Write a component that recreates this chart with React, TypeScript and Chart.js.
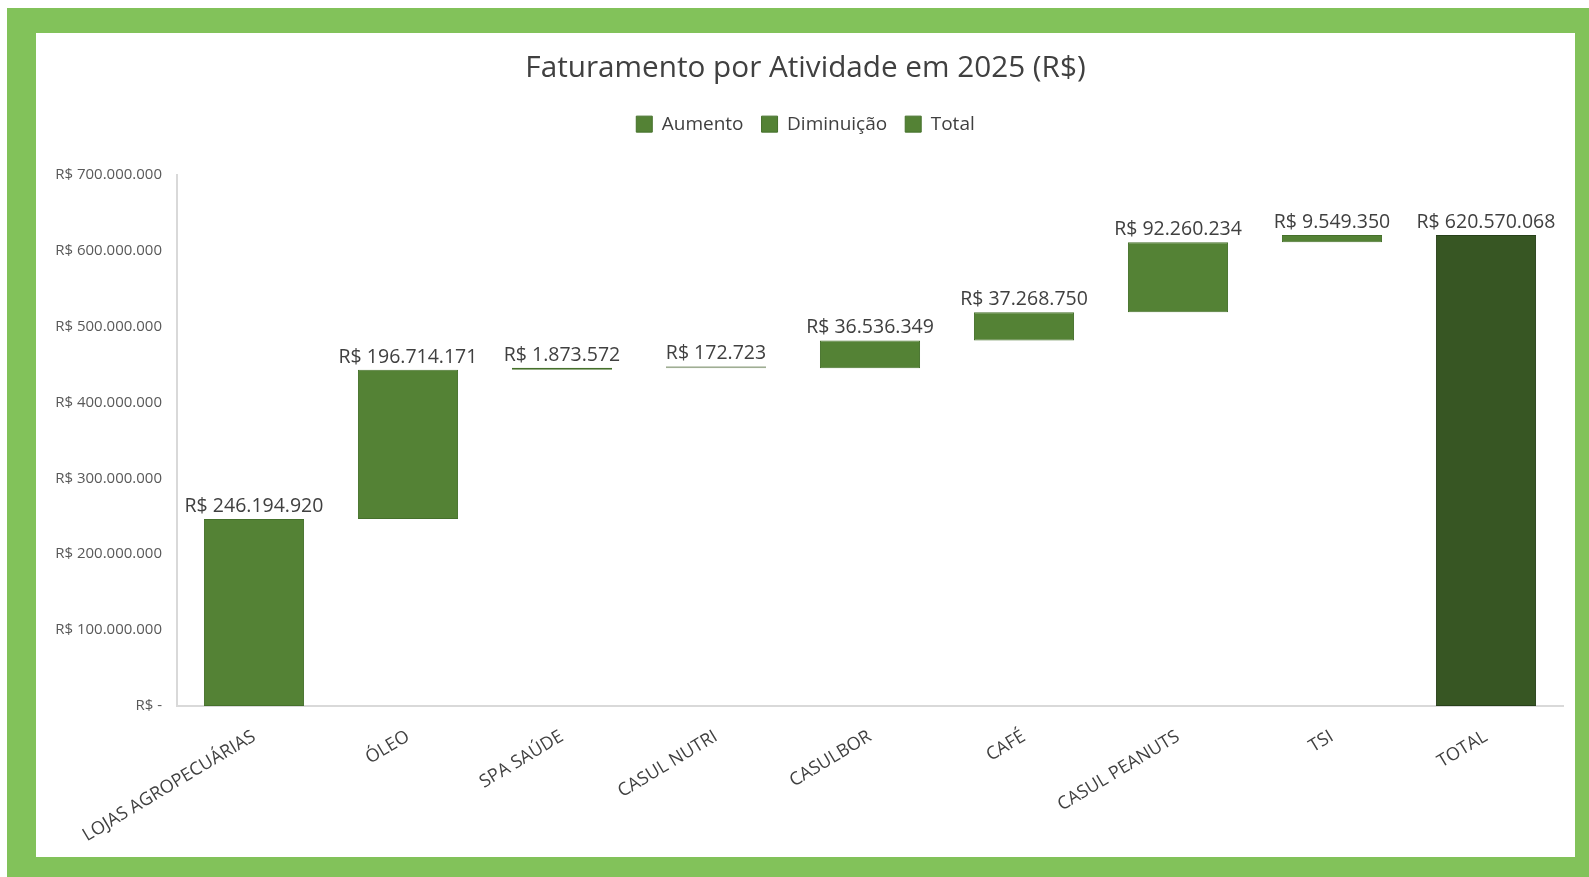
import React, { useEffect, useRef } from "react";
import { Chart, registerables } from "chart.js";

Chart.register(...registerables);

const TITLE = "Faturamento por Atividade em 2025 (R$)";
const LEGEND_LABELS = ["Aumento", "Diminuição", "Total"];
const CATEGORIES = [
  "LOJAS AGROPECUÁRIAS",
  "ÓLEO",
  "SPA SAÚDE",
  "CASUL NUTRI",
  "CASULBOR",
  "CAFÉ",
  "CASUL PEANUTS",
  "TSI",
  "TOTAL",
];
// amounts per activity (the last one is the total)
const VALUES = [246194920, 196714171, 1873572, 172723, 36536349, 37268750, 92260234, 9549350, 620570068];
const IS_TOTAL = [false, false, false, false, false, false, false, false, true];
const Y_TICKS = [0, 100000000, 200000000, 300000000, 400000000, 500000000, 600000000, 700000000];

const FONT = "'Open Sans', sans-serif";
const BAR = "#548235";
const BAR_BORDER = "#45702b";
const TOTAL_BAR = "#375623";
const TOTAL_BORDER = "#27401a";
const THIN_BAR = "#9fae94";

function fmt(v: number): string {
  if (v === 0) return "R$ -";
  return "R$ " + Math.round(v).toString().replace(/\B(?=(\d{3})+(?!\d))/g, ".");
}

function buildRanges(): [number, number][] {
  const out: [number, number][] = [];
  let run = 0;
  VALUES.forEach((v, i) => {
    if (IS_TOTAL[i]) {
      out.push([0, v]);
    } else {
      out.push([run, run + v]);
      run += v;
    }
  });
  return out;
}

const labelPlugin = {
  id: "valueLabels",
  afterDatasetsDraw(chart: any) {
    const ctx = chart.ctx;
    const meta = chart.getDatasetMeta(0);
    ctx.save();
    ctx.font = `19.5px ${FONT}`;
    ctx.fillStyle = "#404040";
    ctx.textAlign = "center";
    ctx.textBaseline = "bottom";
    meta.data.forEach((el: any, i: number) => {
      const top = Math.min(el.y, el.base);
      ctx.fillText(fmt(VALUES[i]), el.x, top - 3);
    });
    ctx.restore();
  },
};

const legendGapPlugin = {
  id: "legendGap",
  beforeInit(chart: any) {
    const legend = chart.legend;
    if (!legend) return;
    const orig = legend.fit;
    legend.fit = function () {
      orig.call(this);
      this.height += 31;
    };
  },
};

export default function App() {
  const ref = useRef<HTMLCanvasElement | null>(null);
  useEffect(() => {
    if (!ref.current) return;
    const ranges = buildRanges();
    const bg = VALUES.map((v, i) => (IS_TOTAL[i] ? TOTAL_BAR : v < 1000000 ? THIN_BAR : BAR));
    const bc = VALUES.map((v, i) => (IS_TOTAL[i] ? TOTAL_BORDER : v < 1000000 ? THIN_BAR : BAR_BORDER));
    const chart = new Chart(ref.current, {
      type: "bar",
      data: {
        labels: CATEGORIES,
        datasets: [
          {
            data: ranges as any,
            backgroundColor: bg,
            borderColor: bc,
            borderWidth: 1,
            borderSkipped: false,
            minBarLength: 2,
            categoryPercentage: 1,
            barPercentage: 0.65,
          },
        ],
      },
      options: {
        animation: false,
        responsive: false,
        maintainAspectRatio: false,
        layout: { padding: { top: 0, left: 12, right: 12, bottom: 0 } },
        plugins: {
          tooltip: { enabled: false },
          title: {
            display: true,
            text: TITLE,
            color: "#404040",
            font: { family: FONT, size: 29.7, weight: "normal" },
            padding: { top: 18, bottom: 10 },
          },
          legend: {
            display: true,
            position: "top",
            labels: {
              color: "#404040",
              font: { family: FONT, size: 19 },
              boxWidth: 16,
              boxHeight: 16,
              padding: 18,
              generateLabels: () =>
                LEGEND_LABELS.map((t) => ({
                  text: t,
                  fillStyle: BAR,
                  strokeStyle: BAR_BORDER,
                  lineWidth: 1,
                  hidden: false,
                  datasetIndex: 0,
                  fontColor: "#404040",
                })),
            },
            onClick: () => {},
          },
        },
        scales: {
          x: {
            grid: { display: false, drawTicks: false },
            border: { display: true, color: "#d9d9d9", width: 2 },
            ticks: {
              color: "#404040",
              font: { family: FONT, size: 18 },
              minRotation: 31,
              maxRotation: 31,
              autoSkip: false,
              padding: 20,
            },
            afterFit: (s: any) => {
              s.height = 151;
            },
          },
          y: {
            min: 0,
            max: 700000000,
            grid: { display: false, drawTicks: false },
            border: { display: true, color: "#d9d9d9", width: 2 },
            afterBuildTicks: (s: any) => {
              s.ticks = Y_TICKS.map((v) => ({ value: v }));
            },
            ticks: {
              color: "#595959",
              font: { family: FONT, size: 15 },
              padding: 15,
              callback: (v: any) => fmt(Number(v)),
            },
            afterFit: (s: any) => {
              s.width = 129;
            },
          },
        },
      },
      plugins: [labelPlugin, legendGapPlugin],
    });
    return () => chart.destroy();
  }, []);

  return (
    <div
      style={{
        position: "fixed",
        left: 0,
        top: 0,
        width: 1589,
        height: 877,
        background: "#ffffff",
        overflow: "hidden",
      }}
    >
      <div
        style={{
          position: "absolute",
          left: 7,
          top: 8,
          width: 1582,
          height: 869,
          background: "#82c25a",
        }}
      />
      <div
        style={{
          position: "absolute",
          left: 36,
          top: 33,
          width: 1539,
          height: 824,
          background: "#ffffff",
        }}
      >
        <canvas ref={ref} width={1539} height={824} style={{ display: "block" }} />
      </div>
    </div>
  );
}
